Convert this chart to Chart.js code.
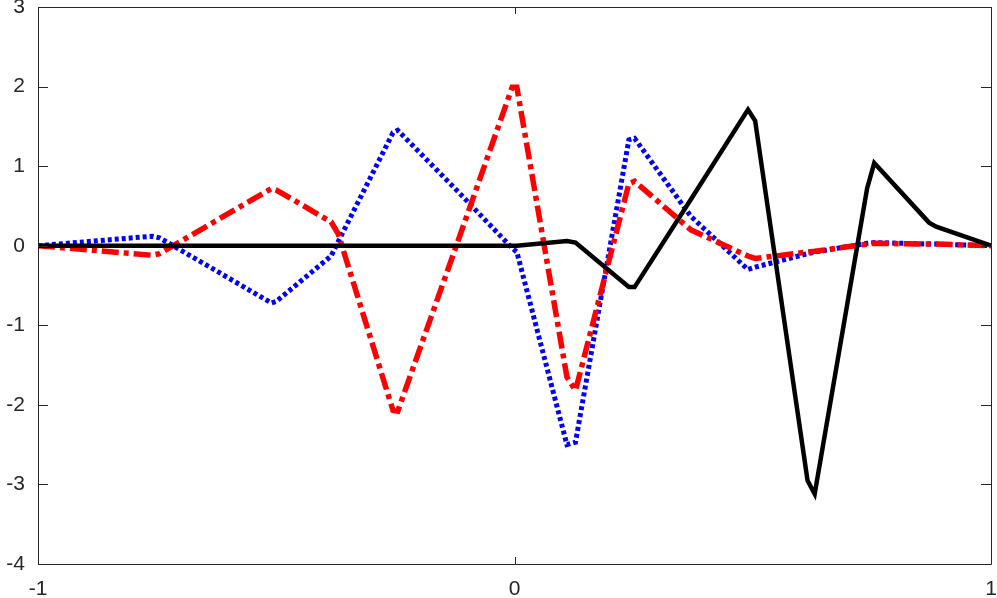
<!DOCTYPE html>
<html>
<head>
<meta charset="utf-8">
<script src="https://cdn.jsdelivr.net/npm/chart.js@4.4.1/dist/chart.umd.min.js"></script>
<style>
  html, body { margin: 0; padding: 0; background: #fff; }
  #wrap { width: 997px; height: 598px; }
</style>
</head>
<body>
<div id="wrap"><canvas id="chart"></canvas></div>
<script>
// sample positions shared by the three curves
const xValues = [-1, -0.76, -0.745, -0.51, -0.5, -0.385, -0.37, -0.255, -0.245, -0.125,
  -0.005, 0.005, 0.11, 0.128, 0.24, 0.252, 0.37, 0.49, 0.505, 0.615, 0.63, 0.74, 0.755,
  0.87, 0.885, 1];

const solidValues = [0, 0, 0, 0, 0, 0, 0, 0, 0, 0,
  0, 0, 0.06, 0.04, -0.52, -0.52, 0.58, 1.71, 1.57, -2.95, -3.12, 0.72, 1.04,
  0.29, 0.24, 0];

const dashDotValues = [0, -0.12, -0.1, 0.72, 0.7, 0.3, 0.15, -2.07, -2.08, -0.05,
  1.99, 1.99, -1.65, -1.82, 0.78, 0.81, 0.2, -0.13, -0.16, -0.08, -0.07, 0.02, 0.03,
  0.02, 0.02, 0];

const dottedValues = [0, 0.12, 0.1, -0.72, -0.7, -0.13, 0.05, 1.42, 1.45, 0.72,
  -0.03, -0.08, -2.5, -2.47, 1.33, 1.35, 0.37, -0.3, -0.27, -0.1, -0.08, 0.03, 0.04,
  0.02, 0.02, 0];

const xTicks = [-1, 0, 1];
const yTicks = [-4, -3, -2, -1, 0, 1, 2, 3];

const toPoints = (ys) => xValues.map((x, i) => ({ x: x, y: ys[i] }));

// box + inward ticks, matlab style
const axesBox = {
  id: "axesBox",
  afterDraw(chart) {
    const { ctx, chartArea: a, scales } = chart;
    const xLen = 7, yLen = 10;
    ctx.save();
    ctx.strokeStyle = "#262626";
    ctx.lineWidth = 1;
    ctx.beginPath();
    ctx.rect(a.left + 0.5, a.top + 0.5, a.right - a.left, a.bottom - a.top);
    xTicks.forEach((v) => {
      const px = Math.round(scales.x.getPixelForValue(v)) + 0.5;
      ctx.moveTo(px, a.bottom);
      ctx.lineTo(px, a.bottom - xLen);
      ctx.moveTo(px, a.top);
      ctx.lineTo(px, a.top + xLen);
    });
    yTicks.forEach((v) => {
      const py = Math.round(scales.y.getPixelForValue(v)) + 0.5;
      ctx.moveTo(a.left, py);
      ctx.lineTo(a.left + yLen, py);
      ctx.moveTo(a.right, py);
      ctx.lineTo(a.right - yLen, py);
    });
    ctx.stroke();
    ctx.restore();
  },
};

const tickFont = { family: "'Liberation Sans', Arial, sans-serif", size: 21 };

new Chart(document.getElementById("chart"), {
  type: "line",
  data: {
    datasets: [
      {
        data: toPoints(solidValues),
        borderColor: "#000000",
        borderWidth: 4.5,
        pointRadius: 0,
        tension: 0,
      },
      {
        data: toPoints(dashDotValues),
        borderColor: "#ff0000",
        borderWidth: 5.5,
        borderDash: [17, 5, 5, 5],
        pointRadius: 0,
        tension: 0,
      },
      {
        data: toPoints(dottedValues),
        borderColor: "#0000ff",
        borderWidth: 5,
        borderDash: [4, 3],
        pointRadius: 0,
        tension: 0,
      },
    ],
  },
  options: {
    responsive: true,
    maintainAspectRatio: false,
    animation: false,
    layout: { padding: { top: 7, right: 6, left: 0, bottom: 0 } },
    plugins: {
      legend: { display: false },
      tooltip: { enabled: false },
    },
    scales: {
      x: {
        type: "linear",
        min: -1,
        max: 1,
        afterBuildTicks: (scale) => { scale.ticks = xTicks.map((v) => ({ value: v })); },
        afterFit: (scale) => {
          scale.height = 34;
          scale.paddingLeft = 0;
          scale.paddingRight = 0;
        },
        grid: { display: false, drawTicks: false },
        border: { display: false },
        ticks: { color: "#262626", padding: 13, maxRotation: 0, font: tickFont },
      },
      y: {
        type: "linear",
        min: -4,
        max: 3,
        afterBuildTicks: (scale) => { scale.ticks = yTicks.map((v) => ({ value: v })); },
        afterFit: (scale) => {
          scale.width = 38;
          scale.paddingTop = 0;
          scale.paddingBottom = 0;
        },
        grid: { display: false, drawTicks: false },
        border: { display: false },
        ticks: { color: "#262626", padding: 13, font: tickFont },
      },
    },
  },
  plugins: [axesBox],
});
</script>
</body>
</html>
